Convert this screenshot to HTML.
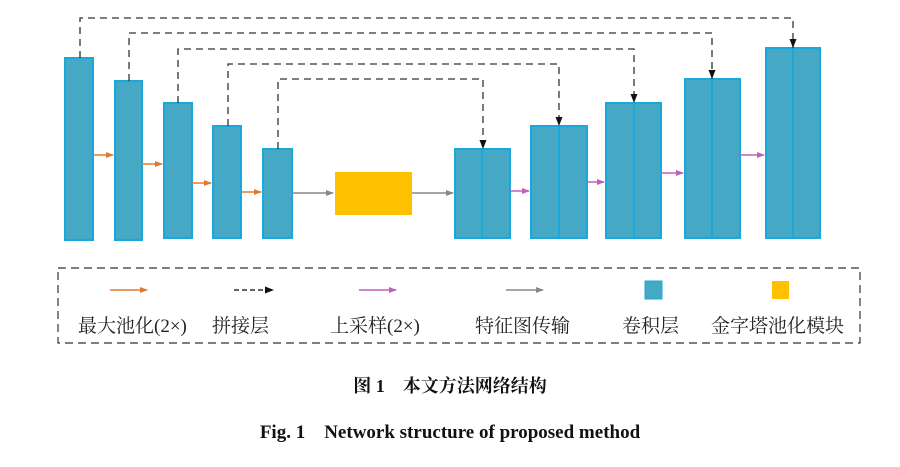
<!DOCTYPE html>
<html><head><meta charset="utf-8"><style>
body{margin:0;background:#fff;width:900px;height:462px;overflow:hidden}
svg text{font-family:"Liberation Serif","Noto Serif CJK SC",serif}
</style></head><body>
<svg width="900" height="462">
<defs>
<marker id="ao" markerWidth="8" markerHeight="6" refX="7" refY="3" orient="auto" markerUnits="userSpaceOnUse"><path d="M0,0L8,3L0,6z" fill="#e07a30"/></marker>
<marker id="ap" markerWidth="8" markerHeight="6" refX="7" refY="3" orient="auto" markerUnits="userSpaceOnUse"><path d="M0,0L8,3L0,6z" fill="#c060b8"/></marker>
<marker id="ag" markerWidth="8" markerHeight="6" refX="7" refY="3" orient="auto" markerUnits="userSpaceOnUse"><path d="M0,0L8,3L0,6z" fill="#888"/></marker>
<marker id="akh" markerWidth="9" markerHeight="7" refX="9" refY="3.5" orient="auto" markerUnits="userSpaceOnUse"><path d="M0,0L9,3.5L0,7z" fill="#111"/></marker>
</defs>
<g fill="#45a9c6" stroke="#1aa8dc" stroke-width="2">
<rect x="65" y="58" width="28" height="182"/>
<rect x="115" y="81" width="27" height="159"/>
<rect x="164" y="103" width="28" height="135"/>
<rect x="213" y="126" width="28" height="112"/>
<rect x="263" y="149" width="29" height="89"/>
</g>
<rect x="335" y="172" width="77" height="43" fill="#ffc000"/>
<g fill="#45a9c6" stroke="#1aa8dc" stroke-width="2">
<rect x="455" y="149" width="55" height="89"/><line x1="482" y1="149" x2="482" y2="238"/>
<rect x="531" y="126" width="56" height="112"/><line x1="559" y1="126" x2="559" y2="238"/>
<rect x="606" y="103" width="55" height="135"/><line x1="634" y1="103" x2="634" y2="238"/>
<rect x="685" y="79" width="55" height="159"/><line x1="712" y1="79" x2="712" y2="238"/>
<rect x="766" y="48" width="54" height="190"/><line x1="793" y1="48" x2="793" y2="238"/>
</g>
<g stroke="#333" stroke-width="1.3" stroke-dasharray="7,5" fill="none">
<polyline points="80,58 80,18 793,18 793,48" marker-end="url(#akh)"/>
<polyline points="129,81 129,33 712,33 712,79" marker-end="url(#akh)"/>
<polyline points="178,103 178,49 634,49 634,103" marker-end="url(#akh)"/>
<polyline points="228,126 228,64 559,64 559,126" marker-end="url(#akh)"/>
<polyline points="278,149 278,79 483,79 483,149" marker-end="url(#akh)"/>
</g>
<g stroke="#e07a30" stroke-width="1.5">
<line x1="93" y1="155" x2="113" y2="155" marker-end="url(#ao)"/>
<line x1="142" y1="164" x2="162" y2="164" marker-end="url(#ao)"/>
<line x1="192" y1="183" x2="211" y2="183" marker-end="url(#ao)"/>
<line x1="241" y1="192" x2="261" y2="192" marker-end="url(#ao)"/>
</g>
<g stroke="#888" stroke-width="1.5">
<line x1="292" y1="193" x2="333" y2="193" marker-end="url(#ag)"/>
<line x1="412" y1="193" x2="453" y2="193" marker-end="url(#ag)"/>
</g>
<g stroke="#c060b8" stroke-width="1.5">
<line x1="510" y1="191" x2="529" y2="191" marker-end="url(#ap)"/>
<line x1="587" y1="182" x2="604" y2="182" marker-end="url(#ap)"/>
<line x1="661" y1="173" x2="683" y2="173" marker-end="url(#ap)"/>
<line x1="740" y1="155" x2="764" y2="155" marker-end="url(#ap)"/>
</g>
<g>
<rect x="58" y="268" width="802" height="75" fill="none" stroke="#333" stroke-width="1.2" stroke-dasharray="8,5"/>
<line x1="110" y1="290" x2="147" y2="290" stroke="#e07a30" stroke-width="1.5" marker-end="url(#ao)"/>
<line x1="234" y1="290" x2="274" y2="290" stroke="#333" stroke-width="1.5" stroke-dasharray="5,3" marker-end="url(#akh)"/>
<line x1="359" y1="290" x2="396" y2="290" stroke="#c060b8" stroke-width="1.5" marker-end="url(#ap)"/>
<line x1="506" y1="290" x2="543" y2="290" stroke="#888" stroke-width="1.5" marker-end="url(#ag)"/>
<rect x="645" y="281" width="17" height="18" fill="#45a9c6" stroke="#1aa8dc"/>
<rect x="772" y="281" width="17" height="18" fill="#ffc000"/>
<g font-size="19" fill="#222">
<text x="78" y="332">最大池化(2×)</text>
<text x="212" y="332">拼接层</text>
<text x="330" y="332">上采样(2×)</text>
<text x="475" y="332">特征图传输</text>
<text x="622" y="332">卷积层</text>
<text x="711" y="332">金字塔池化模块</text>
</g>
</g>
<text x="450" y="392" text-anchor="middle" font-size="18" font-weight="bold" fill="#111">图 1　本文方法网络结构</text>
<text x="450" y="438" text-anchor="middle" font-size="19" font-weight="bold" fill="#111">Fig. 1　Network structure of proposed method</text>
</svg>
</body></html>
